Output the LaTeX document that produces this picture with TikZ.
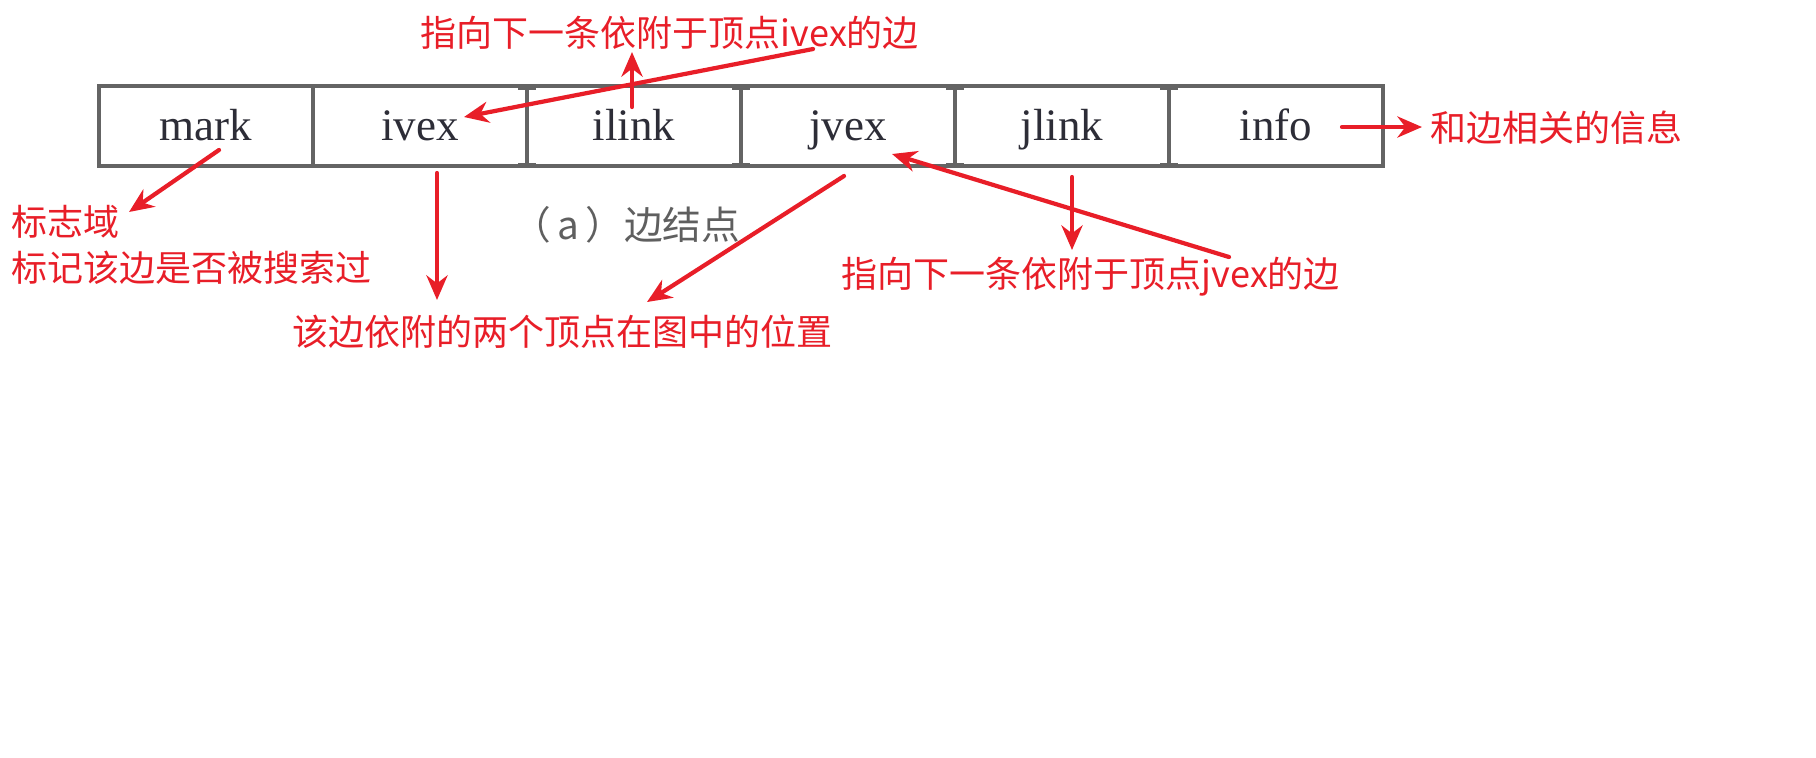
\documentclass[tikz,border=0pt]{standalone}
\usepackage{fontspec}
\usepackage{tkz-euclide}
\usetikzlibrary{arrows.meta}
\setmainfont{Liberation Serif}
\newfontfamily\cjk{Noto Sans CJK SC}
\definecolor{annored}{RGB}{232,30,40}
\definecolor{boxgray}{RGB}{100,100,100}
\definecolor{cellink}{RGB}{45,45,55}
\definecolor{capgray}{RGB}{95,95,95}
\tikzset{>={Stealth[length=7pt,width=6pt]}}
\tikzset{field/.style={draw=boxgray, line width=1pt, minimum width=2.14cm,
    minimum height=0.8cm, inner sep=0pt, outer sep=0pt, text=cellink,
    text height=0.8em, text depth=0pt, font=\fontsize{12.8}{14}\selectfont},
  note/.style={text=annored, inner sep=0pt, font=\cjk\fontsize{10.24}{13.1}\selectfont},
  pointer/.style={->, color=annored, line width=1.2pt},
  divider/.style={boxgray, line width=1pt, {Bar[width=5pt]}-{Bar[width=5pt]}}}

\begin{document}
\begin{tikzpicture}[x=0.01cm, y=-0.01cm]
\useasboundingbox (0,0) rectangle (1816,757);
\node[field] (mark) at (206,126) {mark};
\node[field] (ivex) at (420,126) {ivex};
\node[field] (ilink) at (634,126) {ilink};
\node[field] (jvex) at (848,126) {jvex};
\node[field] (jlink) at (1062,126) {jlink};
\node[field] (info) at (1276,126) {info};
\draw[divider] (ivex.north east) -- (ivex.south east);
\draw[divider] (ilink.north east) -- (ilink.south east);
\draw[divider] (jvex.north east) -- (jvex.south east);
\draw[divider] (jlink.north east) -- (jlink.south east);
\node[text=capgray, inner sep=0pt, anchor=east, font=\cjk\fontsize{11}{12}\selectfont] (caption) at (741,225) {（\,a\,）边结点};
% notes
\node[note, anchor=west] (ilinkNote) at (420,33) {指向下一条依附于顶点ivex的边};
\node[note, anchor=west] (infoNote) at (1430,128) {和边相关的信息};
\node[note, anchor=west, align=left] (markNote) at (11,245) {标志域\\标记该边是否被搜索过};
\node[note, anchor=west] (vexNote) at (292,332) {该边依附的两个顶点在图中的位置};
\node[note, anchor=west] (jlinkNote) at (841,277) {指向下一条依附于顶点jvex的边};
\tkzDefPoints{632/107/Ua, 632/52/Ub, 813/49/Va, 464/117/Vb, 219/150/Ma, 129/212/Mb,
  437/173/Ia, 437/300/Ib, 844/176/Ja, 647/302/Jb, 1072/177/La, 1072/250/Lb,
  1229/257/Ka, 892/154/Kb, 1342/127/Fa, 1422/127/Fb}
\tkzDrawSegments[pointer](Ua,Ub Va,Vb Ma,Mb Ia,Ib Ja,Jb La,Lb Ka,Kb Fa,Fb)
\end{tikzpicture}
\end{document}
